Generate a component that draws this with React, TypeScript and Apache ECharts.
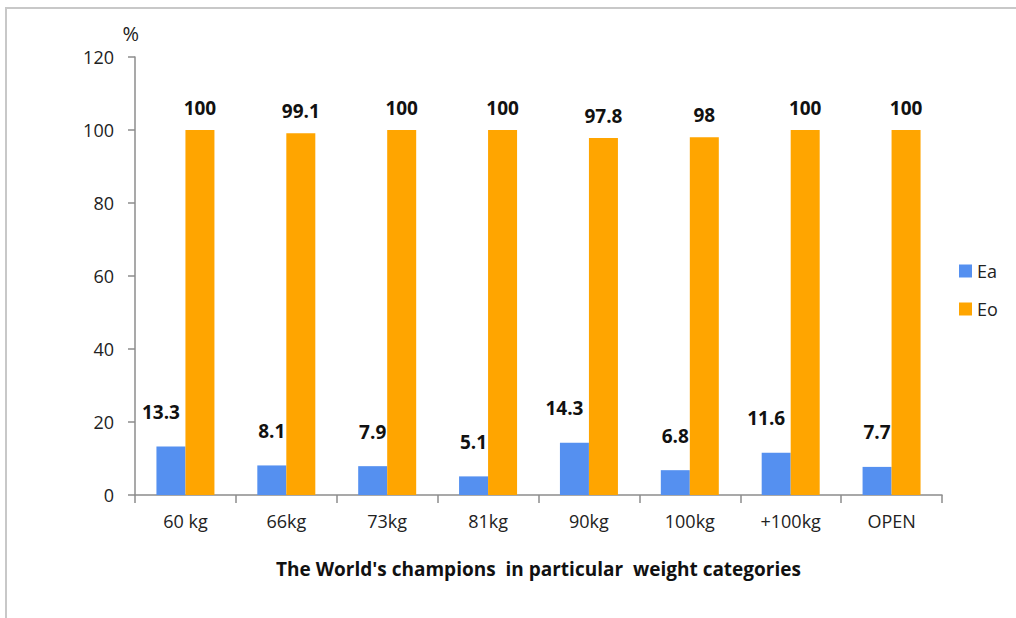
import React, { useEffect, useRef } from "react";
import * as echarts from "echarts";

const categories = ["60 kg", "66kg", "73kg", "81kg", "90kg", "100kg", "+100kg", "OPEN"];
const eaValues = [13.3, 8.1, 7.9, 5.1, 14.3, 6.8, 11.6, 7.7];
const eoValues = [100, 99.1, 100, 100, 97.8, 98, 100, 100];
const seriesNames = ["Ea", "Eo"];

const FONT = "'Open Sans', 'Liberation Sans', sans-serif";

export default function App() {
  const ref = useRef<HTMLDivElement>(null);
  useEffect(() => {
    if (!ref.current) return;
    const chart = echarts.init(ref.current, undefined, { renderer: "svg" });
    chart.setOption({
      animation: false,
      textStyle: { fontFamily: FONT },
      graphic: [
        {
          type: "rect",
          shape: { x: 6, y: 8, width: 1030, height: 630 },
          style: { fill: "none", stroke: "#c8c8c8", lineWidth: 2 },
          silent: true,
        },
      ],
      legend: {
        orient: "vertical",
        left: 954,
        top: 257,
        itemWidth: 13,
        itemHeight: 13,
        itemGap: 20,
        icon: "rect",
        textStyle: { fontSize: 18, color: "#222", fontFamily: FONT },
        data: seriesNames,
      },
      grid: { left: 135, right: 74, top: 57, bottom: 123, containLabel: false },
      xAxis: {
        type: "category",
        data: categories,
        name: "The World's champions  in particular  weight categories",
        nameLocation: "middle",
        nameGap: 64,
        nameTextStyle: { fontSize: 19, fontWeight: "bold", color: "#111", fontFamily: FONT },
        axisLine: { lineStyle: { color: "#8c8c8c", width: 1.5 } },
        axisTick: { show: true, alignWithLabel: false, length: 8, lineStyle: { color: "#8c8c8c", width: 1.5 } },
        axisLabel: { fontSize: 18, color: "#222", margin: 17, fontFamily: FONT },
      },
      yAxis: {
        type: "value",
        min: 0,
        max: 120,
        interval: 20,
        name: "%",
        nameLocation: "end",
        nameGap: 14,
        nameTextStyle: { fontSize: 20, color: "#222", align: "right", padding: [0, -4, 0, 0] },
        axisLine: { show: true, lineStyle: { color: "#8c8c8c", width: 1.5 } },
        axisTick: { show: true, length: 7, lineStyle: { color: "#8c8c8c", width: 1.5 } },
        splitLine: { show: false },
        axisLabel: { fontSize: 18, color: "#222", margin: 21, fontFamily: FONT },
      },
      series: [
        {
          name: seriesNames[0],
          type: "bar",
          barWidth: 29,
          barGap: "0%",
          itemStyle: { color: "#5590F0" },
          data: eaValues.map((v) => ({
            value: v,
            label: { offset: [v >= 10 ? -10 : 0, 0] },
          })),
          label: {
            show: true,
            position: "top",
            distance: 25,
            fontSize: 19,
            fontWeight: "bold",
            color: "#111",
            fontFamily: FONT,
          },
        },
        {
          name: seriesNames[1],
          type: "bar",
          barWidth: 29,
          barGap: "0%",
          itemStyle: { color: "#FFA500" },
          data: eoValues,
          label: {
            show: true,
            position: "top",
            distance: 13,
            fontSize: 19,
            fontWeight: "bold",
            color: "#111",
            fontFamily: FONT,
          },
        },
      ],
    });
    return () => chart.dispose();
  }, []);
  return (
    <div
      ref={ref}
      style={{ position: "absolute", left: 0, top: 0, width: 1016, height: 618, background: "#fff" }}
    />
  );
}
